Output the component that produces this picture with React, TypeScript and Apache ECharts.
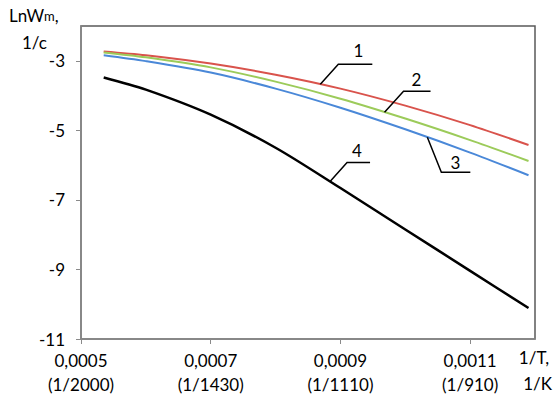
import { useEffect, useRef } from 'react';
import * as echarts from 'echarts';

const xValues = [0.000535, 0.0006, 0.0007, 0.0008, 0.0009, 0.001, 0.0011, 0.00119];
const curve1 = [-2.73, -2.84, -3.08, -3.4, -3.8, -4.29, -4.85, -5.42];
const curve2 = [-2.76, -2.9, -3.19, -3.6, -4.09, -4.66, -5.28, -5.88];
const curve3 = [-2.84, -3.01, -3.34, -3.8, -4.35, -4.97, -5.64, -6.29];
const curve4 = [-3.48, -3.83, -4.55, -5.5, -6.66, -7.85, -9.04, -10.11];
const curveNames = ['1', '2', '3', '4'];
const xTickValues = [0.0005, 0.0007, 0.0009, 0.0011];
const xTickLabels = ['0,0005\n(1/2000)', '0,0007\n(1/1430)', '0,0009\n(1/1110)', '0,0011\n(1/910)'];
const yTickValues = [-11, -9, -7, -5, -3];
const labelAnchorX = [0.000869, 0.000968, 0.001034, 0.000884];

const FONT = 'Lato, "Liberation Sans", sans-serif';
const colors = ['#D9534C', '#9CCB5A', '#4A88D8', '#000000'];
const widths = [2, 2, 2, 2.5];
// leader offsets (px) relative to anchor: [elbow, end, text]
const leaderShapes = [
  [[18, -20], [52, -20], [38, -34]],
  [[19, -21], [46, -21], [32, -33]],
  [[14, 35], [43, 35], [28, 25]],
  [[17, -19], [40, -19], [27, -31]],
];

const allCurves = [curve1, curve2, curve3, curve4];

function interp(xs: number[], ys: number[], x: number) {
  for (let i = 0; i < xs.length - 1; i++) {
    if (x >= xs[i] && x <= xs[i + 1]) {
      const t = (x - xs[i]) / (xs[i + 1] - xs[i]);
      return ys[i] + t * (ys[i + 1] - ys[i]);
    }
  }
  return ys[ys.length - 1];
}

export default function App() {
  const ref = useRef<HTMLDivElement>(null);
  useEffect(() => {
    if (!ref.current) return;
    const chart = echarts.init(ref.current, undefined, { renderer: 'svg' });
    chart.setOption({
      animation: false,
      backgroundColor: '#ffffff',
      grid: {
        left: 81,
        top: 26,
        right: 19,
        bottom: 57,
        show: true,
        borderColor: '#595959',
        borderWidth: 1.5,
      },
      xAxis: {
        type: 'value',
        min: 0.0005,
        max: 0.0012,
        interval: 0.0001,
        axisLine: { show: true, lineStyle: { color: '#8a8a8a', width: 1.5 } },
        axisTick: { show: true, length: 5, customValues: xTickValues, lineStyle: { color: '#8a8a8a', width: 1 } },
        splitLine: { show: false },
        axisLabel: {
          customValues: xTickValues,
          margin: 9,
          color: '#000',
          fontSize: 17,
          fontFamily: FONT,
          lineHeight: 24,
          formatter: (v: number) => {
            let best = 0;
            for (let i = 0; i < xTickValues.length; i++) {
              if (Math.abs(xTickValues[i] - v) < Math.abs(xTickValues[best] - v)) best = i;
            }
            return xTickLabels[best];
          },
        },
      },
      yAxis: {
        type: 'value',
        min: -11,
        max: -2,
        interval: 1,
        axisLine: { show: true, lineStyle: { color: '#8a8a8a', width: 1.5 } },
        axisTick: { show: true, length: 5, customValues: yTickValues, lineStyle: { color: '#8a8a8a', width: 1 } },
        splitLine: { show: false },
        axisLabel: {
          customValues: yTickValues,
          margin: 16,
          color: '#000',
          fontSize: 17,
          fontFamily: FONT,
        },
      },
      series: allCurves.map((c, i) => ({
        name: curveNames[i],
        type: 'line',
        smooth: 0.3,
        showSymbol: false,
        data: xValues.map((x, j) => [x, c[j]]),
        lineStyle: { color: colors[i], width: widths[i] },
        itemStyle: { color: colors[i] },
        z: i === 3 ? 3 : 2,
      })),
    });

    const graphics: any[] = [
      {
        type: 'text',
        left: 9,
        top: 7,
        style: {
          text: '{a|LnW}{b|m}{a|,}\n{c|1/c}',
          rich: {
            a: { fontSize: 17, fontFamily: FONT, fill: '#000', lineHeight: 27 },
            b: { fontSize: 13, fontFamily: FONT, fill: '#000', lineHeight: 27 },
            c: { fontSize: 17, fontFamily: FONT, fill: '#000', lineHeight: 27, padding: [0, 0, 0, 13] },
          },
        },
      },
      {
        type: 'text',
        right: 2,
        top: 344,
        style: {
          text: '1/T,\n 1/K',
          fontSize: 17,
          fontFamily: FONT,
          fill: '#000',
          lineHeight: 26,
          align: 'right',
        },
      },
    ];

    labelAnchorX.forEach((ax, i) => {
      const ay = interp(xValues, allCurves[i], ax);
      const p = chart.convertToPixel({ gridIndex: 0 }, [ax, ay]) as number[];
      const s = leaderShapes[i];
      graphics.push({
        type: 'polyline',
        shape: {
          points: [
            [p[0], p[1]],
            [p[0] + s[0][0], p[1] + s[0][1]],
            [p[0] + s[1][0], p[1] + s[1][1]],
          ],
        },
        style: { stroke: '#000', lineWidth: 1.5, fill: null },
        z: 10,
      });
      graphics.push({
        type: 'text',
        x: p[0] + s[2][0],
        y: p[1] + s[2][1],
        style: {
          text: curveNames[i],
          fontSize: 17,
          fontFamily: FONT,
          fill: '#000',
          align: 'center',
          verticalAlign: 'middle',
        },
        z: 10,
      });
    });

    chart.setOption({ graphic: graphics });
    return () => chart.dispose();
  }, []);
  return <div ref={ref} style={{ width: 554, height: 396, position: 'absolute', left: 0, top: 0 }} />;
}
